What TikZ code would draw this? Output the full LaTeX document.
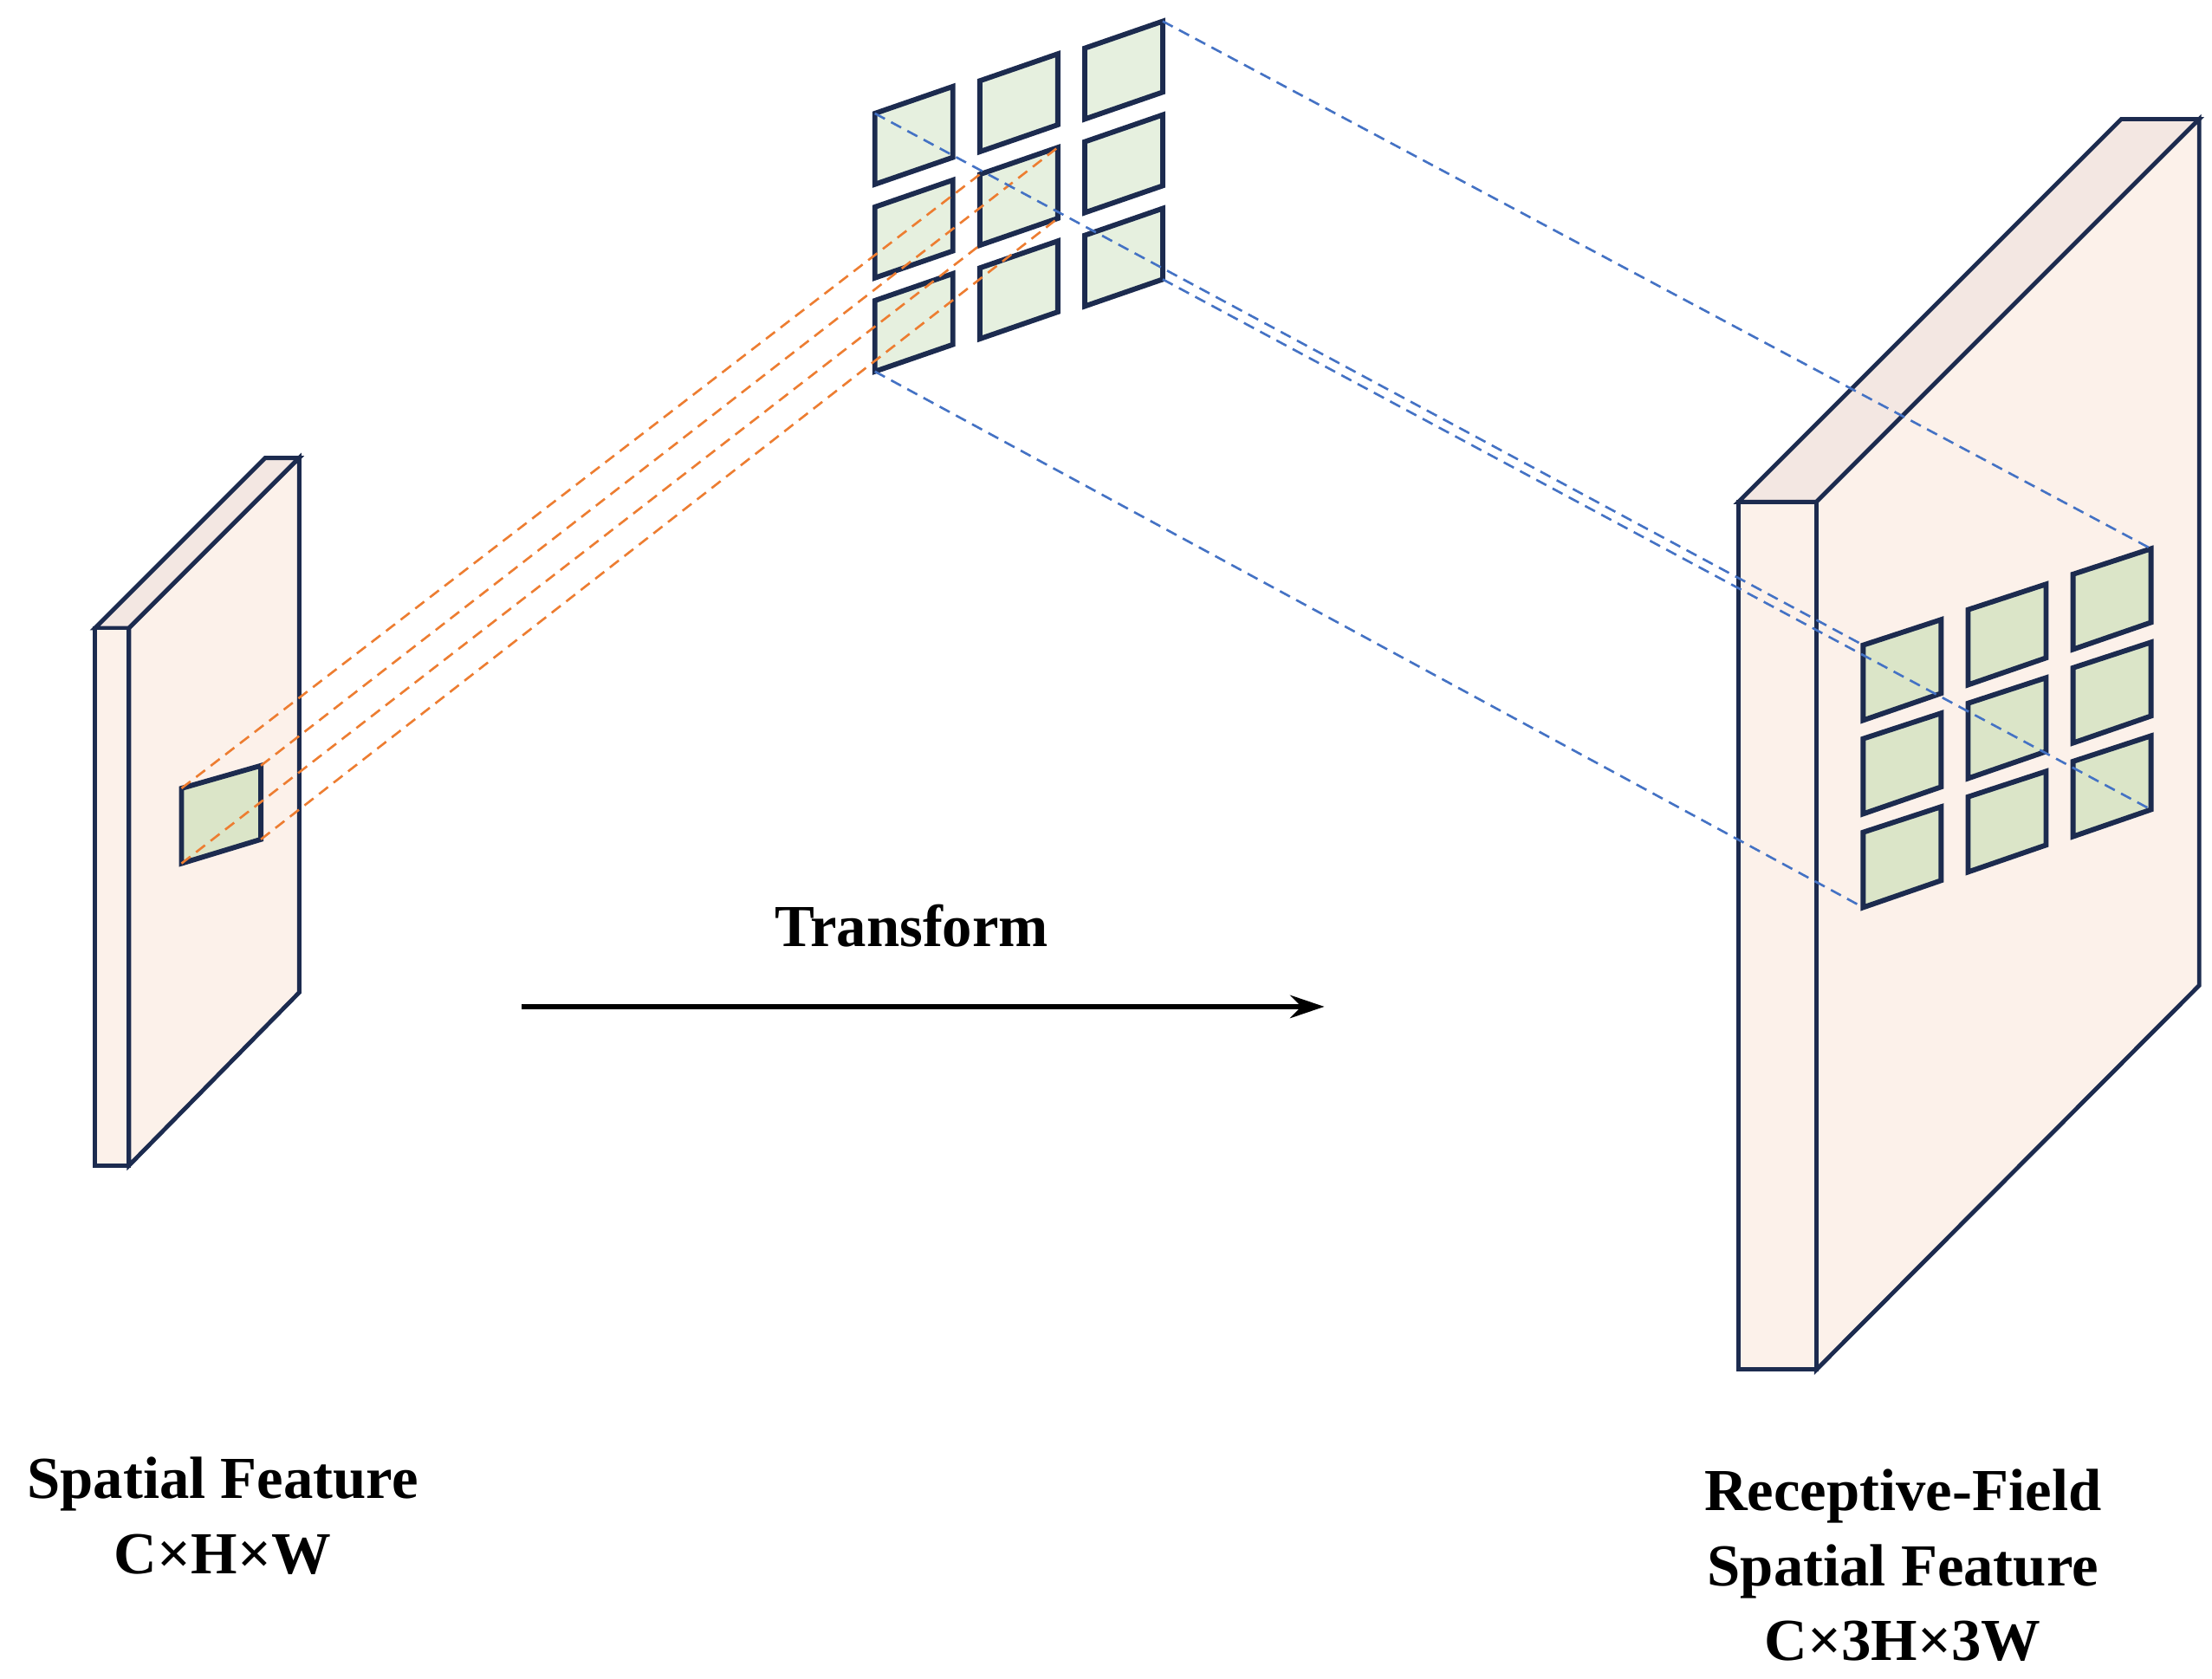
\documentclass[tikz,border=0pt]{standalone}
\usepackage{fontspec}
\setmainfont{Liberation Serif}
\usetikzlibrary{arrows.meta}
\definecolor{navy}{HTML}{1C2B4F}
\definecolor{pinkf}{HTML}{FCF1EA}
\definecolor{pinkt}{HTML}{F3E7E2}
\definecolor{greenA}{HTML}{E6F0DF}
\definecolor{greenB}{HTML}{DBE5C8}
\definecolor{blueL}{HTML}{4472C4}
\definecolor{orangeL}{HTML}{ED7D31}
\begin{document}
\begin{tikzpicture}[x=0.5pt,y=-0.5pt,
  face/.style={draw=navy,line width=1.5pt,line join=miter},
  cell/.style={draw=navy,line width=1.8pt,line join=miter},
  bdash/.style={draw=blueL,line width=0.8pt,dash pattern=on 4pt off 2.5pt},
  odash/.style={draw=orangeL,line width=0.8pt,dash pattern=on 4pt off 2.5pt},
  lbl/.style={font=\fontsize{21}{26.5}\selectfont\bfseries,align=center}]
\useasboundingbox (0,0) rectangle (1560,1184);

% left slab
\filldraw[face,fill=pinkt] (67,443) -- (187,323) -- (211,323) -- (91,443) -- cycle;
\filldraw[face,fill=pinkf] (91,443) -- (211,323) -- (211,700) -- (91,822) -- cycle;
\filldraw[face,fill=pinkf] (67,443) rectangle (91,822);
% patch
\coordinate (p1) at (128,556); \coordinate (p2) at (184,540);
\coordinate (p3) at (184,592); \coordinate (p4) at (128,609);
\filldraw[cell,fill=greenB] (p1) -- (p2) -- (p3) -- (p4) -- cycle;

% right slab
\filldraw[face,fill=pinkt] (1226,354) -- (1496,84) -- (1551,84) -- (1281,354) -- cycle;
\filldraw[face,fill=pinkf] (1281,354) -- (1551,84) -- (1551,695) -- (1281,966) -- cycle;
\filldraw[face,fill=pinkf] (1226,354) rectangle (1281,966);

% top grid
\foreach \i in {0,1,2}{
  \foreach \j in {0,1,2}{
    \pgfmathsetmacro{\xa}{617+74*\j}
    \pgfmathsetmacro{\ya}{80-23*\j+66*\i}
    \coordinate (t\i\j a) at (\xa,\ya);
    \coordinate (t\i\j b) at (\xa+55,\ya-19);
    \coordinate (t\i\j c) at (\xa+55,\ya+31);
    \coordinate (t\i\j d) at (\xa,\ya+50);
    \filldraw[cell,fill=greenA] (t\i\j a) -- (t\i\j b) -- (t\i\j c) -- (t\i\j d) -- cycle;
  }}
% right grid
\foreach \i in {0,1,2}{
  \foreach \j in {0,1,2}{
    \pgfmathsetmacro{\xa}{1314+74*\j}
    \pgfmathsetmacro{\ya}{455-25*\j+66*\i}
    \coordinate (r\i\j a) at (\xa,\ya);
    \coordinate (r\i\j b) at (\xa+55,\ya-18);
    \coordinate (r\i\j c) at (\xa+55,\ya+34);
    \coordinate (r\i\j d) at (\xa,\ya+53);
    \filldraw[cell,fill=greenB] (r\i\j a) -- (r\i\j b) -- (r\i\j c) -- (r\i\j d) -- cycle;
  }}

% orange projection lines
\draw[odash] (p1) -- (t11a);
\draw[odash] (p2) -- (t11b);
\draw[odash] (p3) -- (t11c);
\draw[odash] (p4) -- (t11d);

% blue projection lines
\draw[bdash] (t00a) -- (r00a);
\draw[bdash] (t02b) -- (r02b);
\draw[bdash] (t22c) -- (r22c);
\draw[bdash] (t20d) -- (r20d);

% transform arrow
\node[lbl] (tr) at (643,653) {Transform};
\coordinate (as) at (368,710); \coordinate (ae) at (934,710);
\draw[line width=2pt,-{Stealth[length=12pt,width=8pt]}] (as) -- (ae);

% labels
\node[lbl] (l1) at (157,1069) {Spatial Feature\\C×H×W};
\node[lbl] (l2) at (1342,1104) {Receptive-Field\\Spatial Feature\\C×3H×3W};
\end{tikzpicture}
\end{document}
